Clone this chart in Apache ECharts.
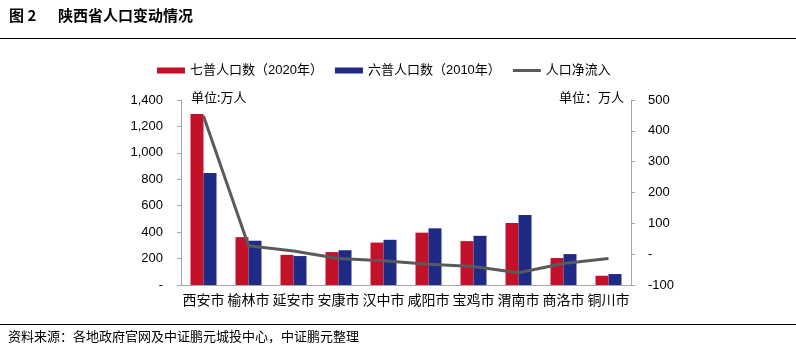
<!DOCTYPE html>
<html><head><meta charset="utf-8">
<script src="https://cdn.jsdelivr.net/npm/echarts@6/dist/echarts.min.js"></script>
<style>html,body{margin:0;padding:0;background:#fff}#c{width:796px;height:358px}</style>
</head><body><div id="c"></div>
<script>
var categories = ['西安市','榆林市','延安市','安康市','汉中市','咸阳市','宝鸡市','渭南市','商洛市','铜川市'];
var pop2020 = [1295, 362, 228, 249, 321, 396, 332, 469, 204, 70];
var pop2010 = [847, 335, 219, 263, 342, 429, 372, 529, 234, 83];
var netInflow = [448, 27, 10, -14, -21, -33, -40, -60, -30, -14];
var leftTicks = {min: 0, max: 1400, interval: 200};
var rightTicks = {min: -100, max: 500, interval: 100};

var FF = '"Liberation Sans", Arial, "Noto Sans CJK SC", sans-serif';
var chart = echarts.init(document.getElementById('c'), null, {renderer: 'canvas'});
function fmtLeft(v){ if (v === 0) return '-'; return v >= 1000 ? Math.floor(v/1000) + ',' + String(v%1000).padStart(3,'0') : String(v); }
function fmtRight(v){ return v === 0 ? '-' : String(v); }
chart.setOption({
  animation: false,
  textStyle: {fontFamily: FF},
  grid: {left: 181, right: 165, top: 100, bottom: 73, containLabel: false},
  legend: {
    left: 152, top: 59, itemWidth: 28, itemHeight: 6, itemGap: 12,
    textStyle: {fontSize: 13, color: '#000', fontFamily: FF},
    data: [
      {name: '七普人口数（2020年）', icon: 'rect'},
      {name: '六普人口数（2010年）', icon: 'rect'},
      {name: '人口净流入', icon: 'path://M0,0 L28,0 L28,3 L0,3 Z', itemStyle: {color: '#5A5A5A'}}
    ]
  },
  xAxis: {
    type: 'category', data: categories,
    axisLine: {lineStyle: {color: '#A6A6A6', width: 1}},
    axisTick: {show: false},
    axisLabel: {color: '#000', fontSize: 14, margin: 9, interval: 0, fontFamily: FF}
  },
  yAxis: [{
    type: 'value', min: leftTicks.min, max: leftTicks.max, interval: leftTicks.interval,
    axisLine: {show: true, lineStyle: {color: '#A6A6A6'}},
    axisTick: {show: true, length: 4, lineStyle: {color: '#A6A6A6'}},
    axisLabel: {color: '#000', fontSize: 13, margin: 18, formatter: fmtLeft, fontFamily: FF},
    splitLine: {show: false}
  }, {
    type: 'value', min: rightTicks.min, max: rightTicks.max, interval: rightTicks.interval,
    axisLine: {show: true, lineStyle: {color: '#A6A6A6'}},
    axisTick: {show: true, length: 4, lineStyle: {color: '#A6A6A6'}},
    axisLabel: {color: '#000', fontSize: 13, margin: 17, formatter: fmtRight, fontFamily: FF},
    splitLine: {show: false}
  }],
  series: [{
    name: '七普人口数（2020年）', type: 'bar', data: pop2020, barWidth: 13, barGap: '0%',
    itemStyle: {color: '#C3112A'}
  }, {
    name: '六普人口数（2010年）', type: 'bar', data: pop2010, barWidth: 13,
    itemStyle: {color: '#1F2A84'}
  }, {
    name: '人口净流入', type: 'line', yAxisIndex: 1, data: netInflow,
    symbol: 'none', lineStyle: {color: '#5A5A5A', width: 3}, itemStyle: {color: '#5A5A5A'}
  }],
  graphic: [
    {type: 'text', left: 9, top: 8, style: {text: '图 2', font: 'bold 15px "Noto Sans CJK SC", sans-serif', fill: '#000'}},
    {type: 'text', left: 58, top: 8, style: {text: '陕西省人口变动情况', font: 'bold 15px "Noto Sans CJK SC", sans-serif', fill: '#000'}},
    {type: 'line', shape: {x1: 0, y1: 38.5, x2: 796, y2: 38.5}, style: {stroke: '#000', lineWidth: 1}},
    {type: 'line', shape: {x1: 0, y1: 324.5, x2: 796, y2: 324.5}, style: {stroke: '#000', lineWidth: 1}},
    {type: 'text', left: 191, top: 91, style: {text: '单位:万人', font: '13px "Noto Sans CJK SC", sans-serif', fill: '#000'}},
    {type: 'text', right: 172, top: 91, style: {text: '单位：万人', font: '13px "Noto Sans CJK SC", sans-serif', fill: '#000'}},
    {type: 'text', left: 8, top: 330, style: {text: '资料来源：各地政府官网及中证鹏元城投中心，中证鹏元整理', font: '13px "Noto Sans CJK SC", sans-serif', fill: '#000'}}
  ]
});
</script></body></html>
